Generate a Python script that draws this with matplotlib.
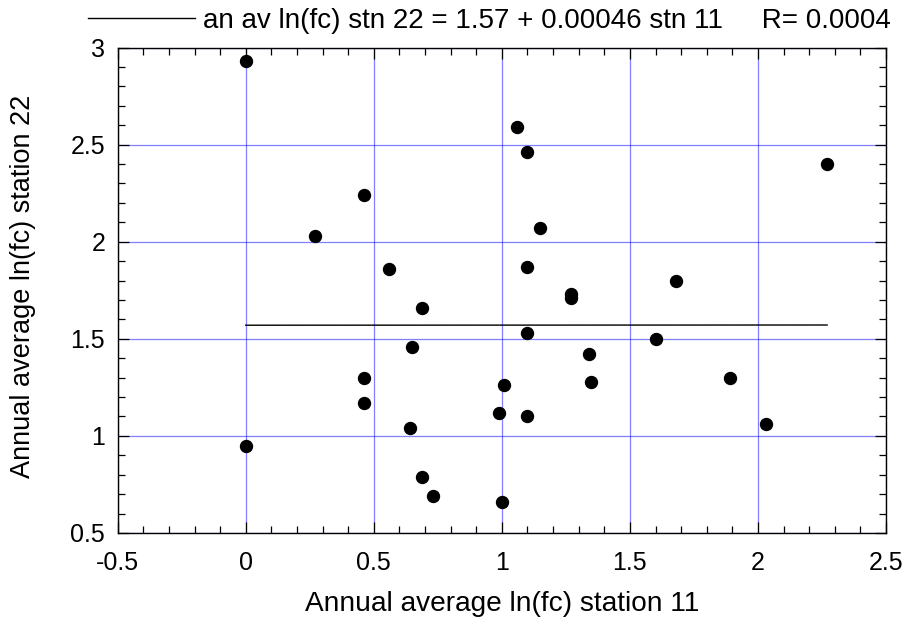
import matplotlib
matplotlib.use("Agg")
import matplotlib.pyplot as plt
import numpy as np
from matplotlib.ticker import MultipleLocator

plt.rcParams['font.family'] = ['Liberation Sans', 'DejaVu Sans']

# Data
x_stn11 = [0.00, 1.06, 1.10, 0.46, 0.27, 0.56, 1.15, 1.10, 2.27, 1.27,
           1.27, 1.68, 0.69, 1.10, 0.65, 1.60, 1.34, 1.35, 1.89, 2.03,
           0.46, 0.46, 0.64, 1.01, 0.99, 1.10, 0.00, 0.69, 0.73, 1.00]
y_stn22 = [2.93, 2.59, 2.46, 2.24, 2.03, 1.86, 2.07, 1.87, 2.40, 1.73,
           1.71, 1.80, 1.66, 1.53, 1.46, 1.50, 1.42, 1.28, 1.30, 1.06,
           1.30, 1.17, 1.04, 1.26, 1.12, 1.10, 0.95, 0.79, 0.69, 0.66]
fit_intercept = 1.57
fit_slope = 0.00046
legend_label = "an av ln(fc) stn 22 = 1.57 + 0.00046 stn 11     R= 0.0004"
xlabel = "Annual average ln(fc) station 11"
ylabel = "Annual average ln(fc) station 22"

W, H = 905, 619
fig = plt.figure(figsize=(W / 100, H / 100), dpi=100)
left, right, top, bottom = 117.7, 886, 47.5, 533
ax = fig.add_axes([left / W, 1 - bottom / H, (right - left) / W, (bottom - top) / H])

ax.set_xlim(-0.5, 2.5)
ax.set_ylim(0.5, 3.0)
ax.xaxis.set_major_locator(MultipleLocator(0.5))
ax.xaxis.set_minor_locator(MultipleLocator(0.1))
ax.yaxis.set_major_locator(MultipleLocator(0.5))
ax.yaxis.set_minor_locator(MultipleLocator(0.1))

ax.grid(True, which='major', color='blue', alpha=0.5, linewidth=0.9, zorder=1)
ax.set_axisbelow(True)

xs = np.array(x_stn11)
xfit = np.array([xs.min(), xs.max()])
yfit = fit_intercept + fit_slope * xfit
ax.plot(xfit, yfit, color='black', linewidth=1.0, label=legend_label, zorder=2)
ax.plot(x_stn11, y_stn22, linestyle='none', marker='o', markersize=8.6,
        color='black', zorder=3)

ax.tick_params(which='both', direction='in', top=True, right=True,
               width=0.9, color='black', labelsize=18)
ax.tick_params(which='major', length=8)
ax.tick_params(which='minor', length=5)
ax.tick_params(axis='x', which='major', pad=13)
ax.tick_params(axis='y', which='major', pad=9)

def fmt(v, pos=None):
    return f"{v:g}"
ax.xaxis.set_major_formatter(plt.FuncFormatter(fmt))
ax.yaxis.set_major_formatter(plt.FuncFormatter(fmt))

for s in ax.spines.values():
    s.set_linewidth(1.0)
    s.set_color('black')

ax.set_xlabel(xlabel, fontsize=20.2)
ax.set_ylabel(ylabel, fontsize=19.5)
ax.xaxis.set_label_coords(0.5, -0.12)
ax.yaxis.set_label_coords(-0.106, 0.508)

fig.legend(loc='center left', bbox_to_anchor=(88 / W, 1 - 21 / H),
           frameon=False, fontsize=20, handlelength=3.85, handletextpad=0.29,
           borderpad=0, borderaxespad=0)

fig.savefig("out.png", dpi=100)
